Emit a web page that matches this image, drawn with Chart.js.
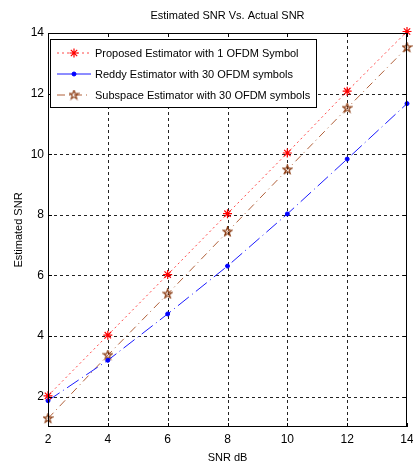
<!DOCTYPE html>
<html>
<head>
<meta charset="utf-8">
<script src="https://cdn.jsdelivr.net/npm/chart.js@4/dist/chart.umd.min.js"></script>
<style>
  html, body { margin: 0; padding: 0; background: #fff; }
  #wrap { position: relative; width: 413px; height: 466px; }
</style>
</head>
<body>
<div id="wrap"><canvas id="chart" width="413" height="466"></canvas></div>
<script>
// data
const snrDb = [2, 4, 6, 8, 10, 12, 14];
const proposed = [2.03, 4.03, 6.03, 8.04, 10.04, 12.08, 14.05];
const reddy = [1.87, 3.2, 4.73, 6.31, 8.03, 9.84, 11.67];
const subspace = [1.28, 3.37, 5.39, 7.44, 9.49, 11.52, 13.52];
const yTicks = [2, 4, 6, 8, 10, 12, 14];
const seriesNames = [
  'Proposed Estimator with 1 OFDM Symbol',
  'Reddy Estimator with 30 OFDM symbols',
  'Subspace Estimator with 30 OFDM symbols'
];
const chartTitle = 'Estimated SNR Vs. Actual SNR';

const FONT = '"Liberation Sans", Arial, Helvetica, sans-serif';

// pentagram marker (matlab 'p')
function makePentagram(size, color) {
  const c = document.createElement('canvas');
  c.width = size; c.height = size;
  const g = c.getContext('2d');
  const cx = size / 2, cy = size / 2, ro = size / 2 - 0.8, ri = ro * 0.4;
  g.beginPath();
  for (let i = 0; i < 10; i++) {
    const r = i % 2 === 0 ? ro : ri;
    const a = -Math.PI / 2 + i * Math.PI / 5;
    const px = cx + r * Math.cos(a), py = cy + r * Math.sin(a);
    if (i === 0) g.moveTo(px, py); else g.lineTo(px, py);
  }
  g.closePath();
  g.strokeStyle = color;
  g.lineWidth = 1.2;
  g.stroke();
  return c;
}
const pentagram = makePentagram(11, '#8a3a10');

const toXY = arr => arr.map((v, i) => ({ x: snrDb[i], y: v }));

// dotted grid under the lines
const matlabGrid = {
  id: 'matlabGrid',
  beforeDatasetsDraw(chart) {
    const { ctx, chartArea: a, scales } = chart;
    ctx.save();
    ctx.strokeStyle = '#222';
    ctx.lineWidth = 1;
    ctx.setLineDash([3, 3]);
    ctx.beginPath();
    snrDb.slice(1, -1).forEach(v => {
      const x = Math.round(scales.x.getPixelForValue(v)) + 0.5;
      ctx.moveTo(x, a.bottom); ctx.lineTo(x, a.top);
    });
    yTicks.slice(0, -1).forEach(v => {
      const y = Math.round(scales.y.getPixelForValue(v)) + 0.5;
      ctx.moveTo(a.left, y); ctx.lineTo(a.right, y);
    });
    ctx.stroke();
    ctx.restore();
  }
};

// title, frame, inward ticks, legend box
const matlabFrame = {
  id: 'matlabFrame',
  afterDraw(chart) {
    const { ctx, chartArea: a, scales } = chart;
    ctx.save();
    // title
    ctx.fillStyle = '#000';
    ctx.font = '11px ' + FONT;
    ctx.textAlign = 'center';
    ctx.textBaseline = 'middle';
    ctx.fillText(chartTitle, (a.left + a.right) / 2, 16);

    // box
    ctx.strokeStyle = '#000';
    ctx.lineWidth = 1;
    ctx.strokeRect(a.left + 0.5, a.top + 0.5, a.right - a.left - 1, a.bottom - a.top - 1);

    // inward ticks
    ctx.beginPath();
    snrDb.forEach(v => {
      const x = Math.round(scales.x.getPixelForValue(v)) + 0.5;
      ctx.moveTo(x, a.bottom); ctx.lineTo(x, a.bottom - 4);
      ctx.moveTo(x, a.top); ctx.lineTo(x, a.top + 4);
    });
    yTicks.forEach(v => {
      const y = Math.round(scales.y.getPixelForValue(v)) + 0.5;
      ctx.moveTo(a.left, y); ctx.lineTo(a.left + 4, y);
      ctx.moveTo(a.right, y); ctx.lineTo(a.right - 4, y);
    });
    ctx.stroke();

    // legend
    const lx = a.left + 2, ly = a.top + 6, lw = 266, lh = 68;
    ctx.fillStyle = '#fff';
    ctx.fillRect(lx, ly, lw, lh);
    ctx.strokeRect(lx + 0.5, ly + 0.5, lw, lh);
    ctx.font = '11px ' + FONT;
    ctx.textAlign = 'left';
    chart.data.datasets.forEach((ds, i) => {
      const ry = ly + 14 + i * 21;
      ctx.save();
      ctx.strokeStyle = ds.borderColor;
      ctx.lineWidth = 1;
      ctx.setLineDash(ds.legendDash);
      ctx.beginPath();
      ctx.moveTo(lx + 7, ry); ctx.lineTo(lx + 41, ry);
      ctx.stroke();
      ctx.restore();
      ctx.save();
      ctx.strokeStyle = ds.pointBorderColor;
      ctx.fillStyle = ds.backgroundColor;
      ctx.lineWidth = ds.pointBorderWidth;
      Chart.helpers.drawPoint(ctx, {
        pointStyle: ds.pointStyle,
        radius: ds.pointRadius,
        borderWidth: ds.pointBorderWidth,
        rotation: 0
      }, lx + 24, ry);
      ctx.restore();
      ctx.fillStyle = '#000';
      ctx.fillText(ds.label, lx + 45, ry + 1);
    });
    ctx.restore();
  }
};

new Chart(document.getElementById('chart'), {
  type: 'line',
  data: {
    datasets: [
      {
        label: seriesNames[0],
        data: toXY(proposed),
        borderColor: 'rgba(255,40,40,0.85)',
        backgroundColor: '#ff0000',
        pointBorderColor: '#ff0000',
        borderWidth: 1,
        borderDash: [2, 3],
        legendDash: [2, 3],
        pointStyle: 'star',
        pointRadius: 4.5,
        pointBorderWidth: 1.2
      },
      {
        label: seriesNames[1],
        data: toXY(reddy),
        borderColor: '#1a1aff',
        backgroundColor: '#0000ff',
        pointBorderColor: '#0000ff',
        borderWidth: 1,
        borderDash: [14, 4, 1, 4],
        legendDash: [],
        pointStyle: 'circle',
        pointRadius: 2,
        pointBorderWidth: 1
      },
      {
        label: seriesNames[2],
        data: toXY(subspace),
        borderColor: '#b0603a',
        backgroundColor: '#8a3a10',
        pointBorderColor: '#8a3a10',
        borderWidth: 1,
        borderDash: [8, 4, 1, 4],
        legendDash: [8, 4, 1, 4],
        pointStyle: pentagram,
        pointRadius: 5,
        pointBorderWidth: 1
      }
    ]
  },
  options: {
    responsive: false,
    animation: false,
    layout: { padding: { top: 33, right: 2, left: 0, bottom: 0 } },
    elements: { line: { tension: 0 } },
    datasets: { line: { clip: 8 } },
    plugins: {
      legend: { display: false },
      title: { display: false },
      tooltip: { enabled: false }
    },
    scales: {
      x: {
        type: 'linear',
        min: 2,
        max: 14,
        afterBuildTicks: s => { s.ticks = snrDb.map(v => ({ value: v })); },
        afterFit: s => { s.height = 39; s.paddingLeft = 0; s.paddingRight = 0; },
        grid: { display: false, drawTicks: false },
        border: { display: false },
        ticks: { color: '#000', padding: 5, maxRotation: 0, font: { family: FONT, size: 12 } },
        title: {
          display: true, text: 'SNR dB', color: '#000',
          font: { family: FONT, size: 11 }, padding: { top: 0, bottom: 1 }
        }
      },
      y: {
        type: 'linear',
        min: 1,
        max: 14,
        afterBuildTicks: s => { s.ticks = yTicks.map(v => ({ value: v })); },
        afterFit: s => { s.width = 48; s.paddingTop = 0; s.paddingBottom = 0; },
        grid: { display: false, drawTicks: false },
        border: { display: false },
        ticks: { color: '#000', padding: 4, font: { family: FONT, size: 12 } },
        title: {
          display: true, text: 'Estimated SNR', color: '#000',
          font: { family: FONT, size: 11 }, padding: { top: 12, bottom: 0 }
        }
      }
    }
  },
  plugins: [matlabGrid, matlabFrame]
});
</script>
</body>
</html>
